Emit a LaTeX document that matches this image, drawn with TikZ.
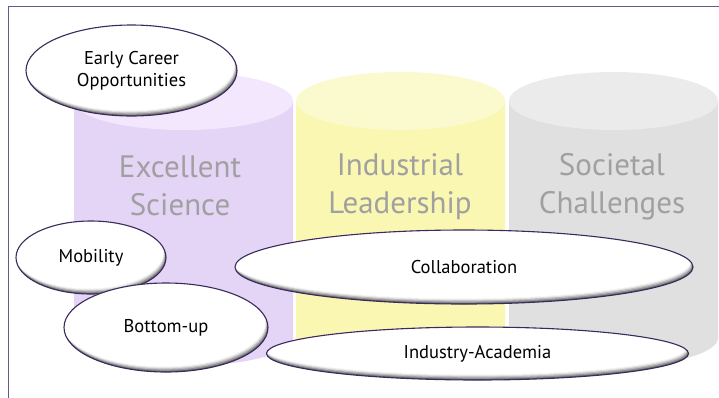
\documentclass[tikz,border=0pt]{standalone}
\usepackage{fontspec}
\setmainfont{PT Sans}
\usetikzlibrary{shapes.geometric,calc}
\definecolor{framec}{RGB}{105,88,135}
\definecolor{bordc}{RGB}{60,42,95}
\definecolor{purbody}{RGB}{228,213,246}
\definecolor{purtop}{RGB}{242,231,252}
\definecolor{yelbody}{RGB}{250,247,178}
\definecolor{yeltop}{RGB}{251,249,206}
\definecolor{grybody}{RGB}{224,224,224}
\definecolor{grytop}{RGB}{235,235,235}
\definecolor{labc}{RGB}{160,160,160}
\newcommand\cylinder[5]{% x1, x2, body, top, name
  \fill[#3] (#1,101) -- (#1,338) arc[start angle=180, end angle=0, x radius={(#2-#1)/2}, y radius=28] -- (#2,101) -- cycle;
  \fill[#4] ({(#1+#2)/2},101) ellipse [x radius={(#2-#1)/2}, y radius=29];
  \coordinate (#5) at ({(#1+#2)/2},101);
}
\newcommand\shadelayer[3]{% colour, dx, dy
  \path let \p1=($(path picture bounding box.north east)-(path picture bounding box.south west)$) in
    [fill=#1] ($(path picture bounding box.center)+(#2,#3)$) ellipse [x radius=0.5*\x1, y radius=0.5*\y1];
}
\tikzset{
  pillarlab/.style={text=labc, font=\fontsize{31}{38}\selectfont, align=center},
  bubble/.style={ellipse, draw=bordc, line width=1.1pt, inner sep=0pt, fill=black!60,
    font=\fontsize{18.5}{22}\selectfont, align=center,
    path picture={
      \shadelayer{black!42}{-0.5}{-1.2}
      \shadelayer{black!26}{-1.1}{-2.4}
      \shadelayer{black!12}{-1.7}{-3.6}
      \shadelayer{black!4}{-2.2}{-4.6}
      \shadelayer{white}{-2.7}{-5.6}
    }}
}
\begin{document}
\begin{tikzpicture}[x=1pt,y=-1pt]
\useasboundingbox (0,0) rectangle (719,397);
\coordinate (fbl) at (8.5,400);
\coordinate (ftl) at (8.5,6.5);
\coordinate (ftr) at (722,6.5);
\draw[framec, line width=1.5pt] (fbl) -- (ftl) -- (ftr);
\cylinder{74}{293}{purbody}{purtop}{cyl1}
\cylinder{296}{505}{yelbody}{yeltop}{cyl2}
\cylinder{509}{718}{grybody}{grytop}{cyl3}
\node[pillarlab] (es) at (180,186) {Excellent\\Science};
\node[pillarlab] (il) at (400,187) {Industrial\\Leadership};
\node[pillarlab] (sc) at (612,187) {Societal\\Challenges};
\node[bubble, minimum width=211pt, minimum height=91pt] (ecr) at (131.5,70.5) {Early Career\\Opportunities};
\node[bubble, minimum width=150pt, minimum height=73pt] (mob) at (91,257.5) {Mobility};
\node[bubble, minimum width=204pt, minimum height=89pt] (bu) at (166,327.5) {Bottom-up};
\node[bubble, minimum width=458pt, minimum height=74pt] (col) at (464,267) {Collaboration};
\node[bubble, minimum width=422pt, minimum height=53pt] (ia) at (477.5,353.5) {Industry-Academia};
\end{tikzpicture}
\end{document}
